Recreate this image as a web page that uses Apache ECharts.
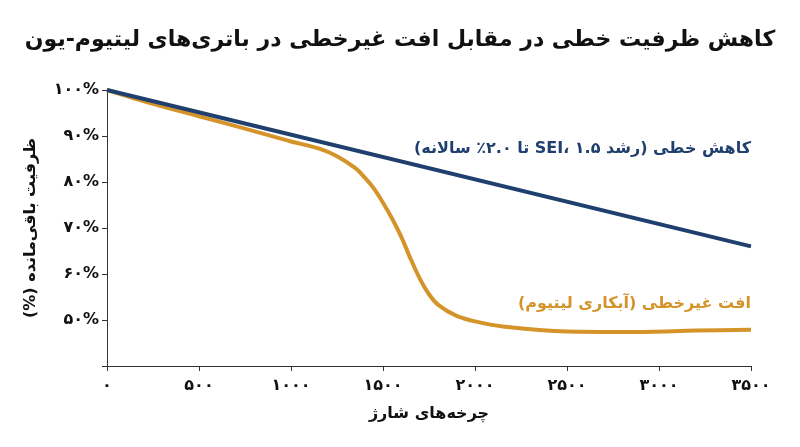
<!DOCTYPE html>
<html><head><meta charset="utf-8">
<script src="https://cdn.jsdelivr.net/npm/echarts@6/dist/echarts.min.js"></script>
<style>html,body{margin:0;background:#fff}#c{width:800px;height:447px}</style>
</head><body><div id="c"></div>
<script>
const cycles = [0, 250, 500, 750, 1000, 1150, 1250, 1350, 1400, 1450, 1500, 1550, 1600, 1650, 1700, 1750, 1800, 1900, 2000, 2150, 2500, 2850, 3200, 3500];
const linear = [[0, 100], [3500, 66]];
const nonlinear = [100, 97, 94.3, 91.6, 88.8, 87.3, 85.6, 83, 81, 78.6, 75.5, 72, 68, 63.3, 59, 55.6, 53.3, 50.9, 49.7, 48.6, 47.5, 47.4, 47.7, 47.9];
const yTicks = [40, 50, 60, 70, 80, 90, 100];
const labelBlue = 'کاهش خطی (رشد SEI، ۱.۵ تا ۲.۰٪ سالانه)';
const labelOrange = 'افت غیرخطی (آبکاری لیتیوم)';

const rtl = s => '\u202B' + s + '\u202C';
const fa = s => String(s).replace(/\d/g, d => '۰۱۲۳۴۵۶۷۸۹'[d]);
const font = '"DejaVu Sans", "Noto Sans", sans-serif';
const chart = echarts.init(document.getElementById('c'));
chart.setOption({
  textStyle: { fontFamily: font },
  title: { text: rtl('کاهش ظرفیت خطی در مقابل افت غیرخطی در باتری‌های لیتیوم-یون'), left: 'center', top: 24,
    textStyle: { fontSize: 22, fontWeight: 'bold', color: '#111', fontFamily: font } },
  grid: { left: 107, right: 49, top: 90, bottom: 81 },
  xAxis: { type: 'value', min: 0, max: 3500, interval: 500,
    name: rtl('چرخه‌های شارژ'), nameLocation: 'middle', nameGap: 40,
    nameTextStyle: { fontSize: 16, fontWeight: 'bold', color: '#111' },
    axisLine: { lineStyle: { color: '#333' } }, axisTick: { lineStyle: { color: '#333' } },
    splitLine: { show: false },
    axisLabel: { formatter: v => fa(v), fontSize: 16, fontWeight: 'bold', color: '#111', margin: 12 } },
  yAxis: { type: 'value', min: yTicks[0], max: yTicks[yTicks.length - 1], interval: 10,
    name: rtl('ظرفیت باقی‌مانده (%)'), nameLocation: 'middle', nameGap: 68, nameRotate: 90,
    nameTextStyle: { fontSize: 16, fontWeight: 'bold', color: '#111' },
    axisLine: { show: true, lineStyle: { color: '#333' } }, axisTick: { show: true, lineStyle: { color: '#333' } },
    splitLine: { show: false },
    axisLabel: { formatter: v => v === 40 ? '' : fa(v) + '%', fontSize: 16, fontWeight: 'bold', color: '#111' } },
  series: [
    { type: 'line', data: cycles.map((c, i) => [c, nonlinear[i]]), smooth: 0.3, showSymbol: false,
      lineStyle: { color: '#D4942A', width: 4 }, z: 2 },
    { type: 'line', data: linear, showSymbol: false, lineStyle: { color: '#1F3F6E', width: 4 }, z: 3 }
  ],
  graphic: [
    { type: 'text', right: 49, top: 141, style: { text: rtl(labelBlue), fill: '#1F3F6E', font: 'bold 16px ' + font } },
    { type: 'text', right: 49, top: 296, style: { text: rtl(labelOrange), fill: '#D4942A', font: 'bold 16px ' + font } }
  ]
});
</script></body></html>
